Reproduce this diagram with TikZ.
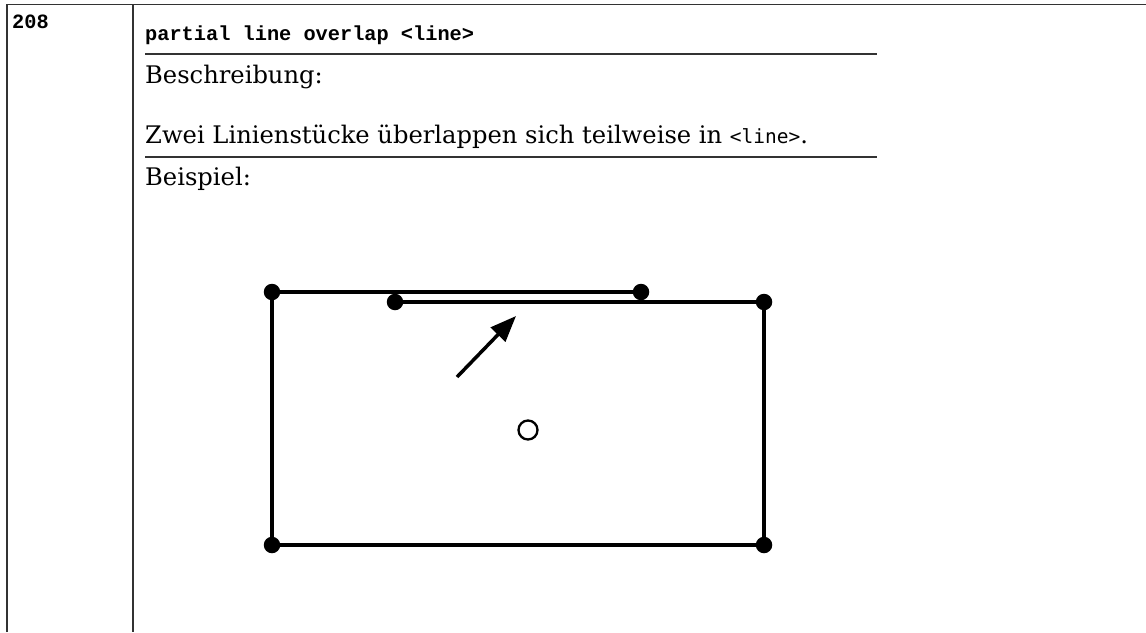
\documentclass[tikz,border=0pt]{standalone}
\usepackage{fontspec}
\setmainfont{DejaVu Serif}
\newfontfamily\hdrmono{Liberation Mono}
\newfontfamily\inmono{DejaVu Sans Mono}
\usetikzlibrary{arrows.meta}
\tikzset{
  tablerule/.style={draw=black!80, line width=1.8pt},
  hdrtext/.style={anchor=base west, inner sep=0pt, font=\hdrmono\bfseries\fontsize{20.3}{24}\selectfont},
  bodytext/.style={anchor=base west, inner sep=0pt, font=\fontsize{24.2}{28}\selectfont},
  dot/.style={circle, fill=black, inner sep=0pt, minimum size=16.5pt},
  edge/.style={draw=black, line width=3.5pt},
  opencirc/.style={circle, draw=black, line width=2.3pt, inner sep=0pt, minimum size=19pt},
  pointer/.style={draw=black, line width=3.5pt, -{Triangle[length=26pt,width=20pt]}}
}
\begin{document}
\begin{tikzpicture}[x=1pt,y=-1pt]
\useasboundingbox (0,0) rectangle (1146,632);
% table frame
\coordinate (ftl) at (7,4.5);
\coordinate (ftr) at (1146,4.5);
\coordinate (fbl) at (7,632);
\coordinate (dtop) at (133,4.5);
\coordinate (dbot) at (133,632);
\draw[tablerule] (fbl) -- (ftl) -- (ftr);
\draw[tablerule] (dtop) -- (dbot);
\coordinate (r1a) at (145,54);
\coordinate (r1b) at (877,54);
\coordinate (r2a) at (145,157);
\coordinate (r2b) at (877,157);
\draw[tablerule] (r1a) -- (r1b);
\draw[tablerule] (r2a) -- (r2b);
% texts
\node[hdrtext] (num) at (12,28) {208};
\node[hdrtext] (title) at (145,40) {partial line overlap <line>};
\node[bodytext] (desc) at (145,83) {Beschreibung:};
\node[bodytext] (text) at (145,143) {Zwei Linienstücke überlappen sich teilweise in {\inmono\fontsize{19.5}{24}\selectfont <line>}.};
\node[bodytext] (ex) at (145,185) {Beispiel:};
% example drawing
\node[dot] (a) at (272,292) {};
\node[dot] (b) at (641,292) {};
\node[dot] (c) at (395,302) {};
\node[dot] (d) at (764,302) {};
\node[dot] (e) at (272,545) {};
\node[dot] (f) at (764,545) {};
\draw[edge] (a.center) -- (b.center);
\draw[edge] (c.center) -- (d.center);
\draw[edge] (a.center) -- (e.center);
\draw[edge] (d.center) -- (f.center);
\draw[edge] (e.center) -- (f.center);
\coordinate (atail) at (457,377);
\coordinate (ahead) at (516,316);
\draw[pointer] (atail) -- (ahead);
\node[opencirc] (o) at (528,430) {};
\end{tikzpicture}
\end{document}
